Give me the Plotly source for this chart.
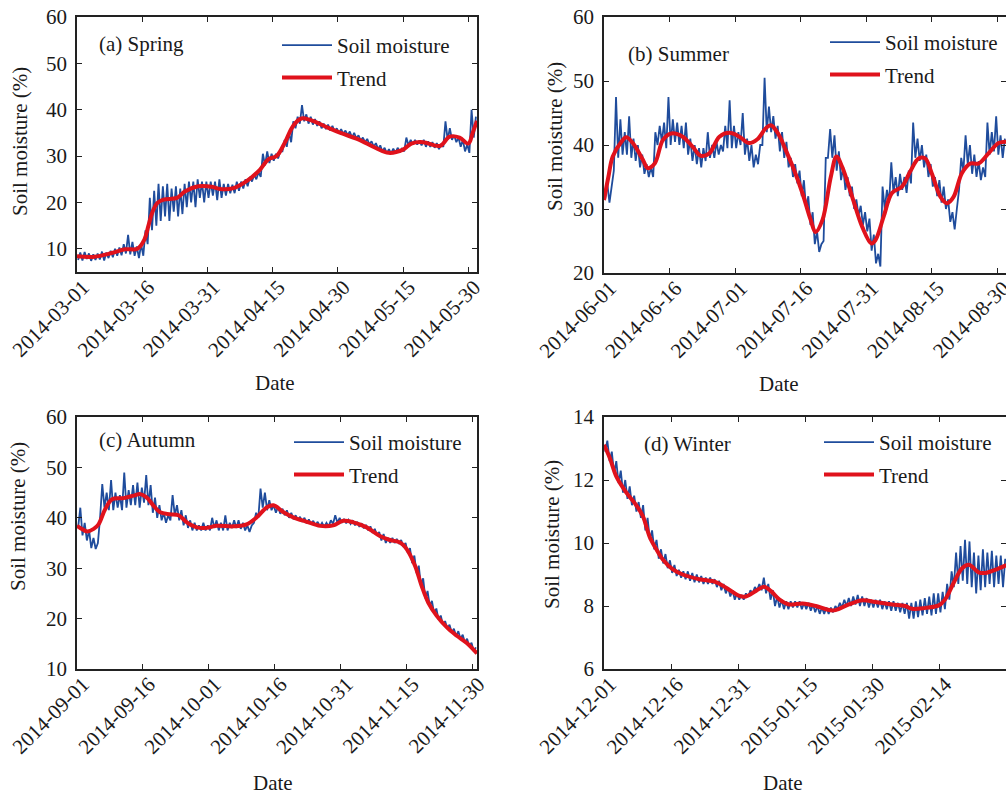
import pandas as pd
import plotly.graph_objects as go

# ---------------- data ----------------
# Daily low / high of hourly soil moisture (%) and smoothed trend
spring_start = "2014-03-01"
spring_end = "2014-06-01"
spring_low = [7.6, 7.5, 7.8, 7.4, 7.6, 7.7, 7.5, 8.0, 8.2, 8.5, 8.6, 9.0, 8.8, 8.5, 8.0, 8.5,
              11.0, 14.0, 15.0, 16.0, 17.0, 16.0, 18.0, 17.0, 17.5, 19.0, 20.0, 19.0, 21.0, 20.0,
              21.0, 21.5, 20.5, 21.0, 21.5, 22.0, 22.0, 22.5, 23.0, 23.5, 24.5, 25.0, 25.5, 28.0,
              28.5, 29.0, 29.5, 31.0, 32.0, 33.0, 36.0, 37.0, 37.5, 37.0, 36.8, 36.5, 36.0, 35.8,
              35.5, 35.3, 35.0, 34.8, 34.5, 34.0, 33.8, 33.3, 33.0, 32.5, 32.0, 31.5, 31.0, 30.6,
              30.6, 30.7, 30.8, 31.0, 32.3, 32.5, 32.5, 32.3, 32.0, 32.0, 31.8, 31.5, 32.0, 33.5,
              33.5, 33.0, 32.0, 31.0, 30.7, 34.0]
spring_high = [9.2, 9.3, 9.0, 8.8, 9.0, 9.4, 9.2, 9.6, 10.0, 10.3, 11.0, 13.0, 11.5, 10.5, 11.0, 14.0,
               21.0, 22.5, 24.0, 23.5, 24.0, 23.0, 23.5, 23.0, 24.0, 24.5, 24.5, 25.0, 24.5, 24.5,
               24.5, 24.5, 25.0, 24.0, 24.0, 23.8, 24.5, 24.5, 25.0, 25.5, 26.0, 26.5, 30.5, 31.0,
               30.5, 30.5, 31.0, 33.5, 35.0, 37.5, 38.5, 41.0, 39.0, 38.5, 38.0, 37.5, 37.0, 36.8,
               36.5, 36.0, 35.8, 35.5, 35.3, 35.0, 34.5, 34.0, 33.7, 33.2, 32.8, 32.3, 31.8, 31.5,
               31.6, 31.8, 31.6, 34.0, 33.5, 33.5, 33.4, 33.5, 33.2, 33.0, 32.8, 32.5, 37.5, 36.0,
               34.5, 34.0, 33.5, 32.5, 40.0, 38.5]
spring_trend_day = [0, 4, 8, 11, 13.9, 15.5, 16.4, 17.3, 18.5, 19.9, 23, 24.9, 27.9, 31, 32.9, 36,
                    39, 42.1, 44, 45.9, 47.8, 49.7, 51.6, 53.6, 57.8, 60.6, 64.7, 68.6, 71.7, 75,
                    76.9, 79.6, 83.5, 85.7, 88, 90, 91, 92]
spring_trend = [8.4, 8.3, 9.1, 9.9, 10.0, 12.0, 14.9, 17.8, 19.9, 20.6, 21.0, 22.4, 23.5, 23.4, 22.9,
                23.1, 24.6, 27.1, 29.3, 30.0, 32.9, 36.5, 38.1, 37.8, 36.1, 35.0, 33.6, 31.8, 30.7,
                31.4, 32.7, 33.0, 32.2, 34.2, 34.0, 32.7, 35.0, 37.6]

summer_start = "2014-06-01"
summer_end = "2014-09-01"
summer_low = [31.5, 31.0, 36.0, 38.0, 38.5, 38.5, 38.0, 37.5, 36.5, 35.5, 35.0, 35.0, 40.0, 40.5,
              39.5, 40.0, 40.5, 40.0, 39.5, 38.5, 37.5, 37.0, 36.5, 37.5, 38.0, 38.0, 38.5, 39.0,
              39.5, 39.5, 39.5, 40.0, 38.5, 37.5, 36.5, 37.0, 40.0, 42.0, 42.0, 41.0, 39.0, 38.0,
              36.5, 35.0, 34.0, 32.0, 30.0, 27.5, 24.5, 23.3, 25.0, 38.0, 38.0, 36.0, 34.5, 33.0,
              32.0, 30.0, 29.0, 27.5, 26.5, 23.5, 21.5, 21.0, 30.0, 31.0, 32.5, 32.0, 33.0, 32.5,
              34.0, 38.0, 37.5, 36.5, 35.0, 33.5, 32.0, 31.0, 30.0, 28.0, 26.8, 33.0, 36.0, 37.0,
              35.5, 35.0, 34.5, 35.0, 38.5, 39.0, 38.5, 38.0]
summer_high = [34.0, 33.5, 47.5, 44.0, 42.0, 44.5, 41.0, 40.0, 38.5, 37.0, 36.5, 42.0, 43.0, 43.5,
               47.5, 44.0, 43.5, 43.0, 43.5, 41.0, 40.0, 39.5, 39.5, 42.0, 40.0, 40.5, 40.0, 43.0,
               47.0, 43.0, 42.0, 45.0, 41.0, 40.0, 38.5, 40.0, 50.5, 46.0, 44.5, 43.0, 42.0, 40.5,
               38.0, 37.0, 36.0, 34.5, 32.0, 29.5, 26.5, 24.5, 38.0, 42.5, 41.5, 39.0, 36.5, 35.0,
               33.5, 31.5, 30.5, 29.5, 28.5, 26.0, 23.0, 33.5, 33.0, 37.3, 35.0, 35.5, 35.0, 36.0,
               43.5, 41.0, 40.0, 38.5, 37.0, 35.0, 34.5, 33.5, 31.5, 29.5, 30.0, 38.0, 41.5, 40.0,
               38.5, 37.5, 36.5, 43.5, 42.0, 44.5, 41.5, 41.0]
summer_trend_day = [0, 1, 2, 4, 5.1, 6.6, 8.9, 10, 11.6, 13.5, 15.4, 18, 20.3, 22.2, 24.1, 26.4, 28.7,
                    31, 33.2, 35.1, 37, 38.2, 40, 41.6, 43.5, 45.4, 47.3, 48.4, 50, 51.9, 53.2, 54.5,
                    56.8, 59.1, 61.2, 62.1, 64, 65.9, 68.2, 70.1, 72, 73.5, 75, 77, 78.5, 80, 81.9,
                    83.8, 85.7, 88, 90.3, 92]
summer_trend = [31.4, 35.0, 38.2, 40.5, 41.2, 40.3, 37.7, 36.4, 37.1, 40.8, 41.8, 41.3, 39.7, 38.3,
                38.7, 41.3, 41.9, 41.3, 40.3, 40.9, 42.6, 43.1, 41.6, 39.2, 36.1, 32.5, 28.3, 26.4,
                28.3, 35.0, 38.2, 36.6, 31.9, 27.2, 24.6, 25.1, 28.8, 32.5, 33.5, 35.9, 37.9, 37.9,
                35.6, 31.9, 30.9, 31.9, 35.6, 37.1, 37.1, 38.7, 40.3, 40.5]

autumn_start = "2014-09-01"
autumn_end = "2014-12-01"
autumn_low = [38.0, 36.5, 35.5, 34.0, 33.8, 40.0, 42.0, 41.5, 41.5, 42.0, 41.5, 42.0, 42.5, 42.5,
              42.0, 43.0, 42.5, 41.0, 40.0, 39.5, 39.0, 39.5, 40.5, 39.5, 38.5, 38.0, 37.5, 37.5,
              37.5, 37.5, 37.5, 38.0, 37.5, 37.5, 37.5, 38.0, 38.0, 37.8, 37.5, 37.2, 39.0, 40.0,
              42.0, 41.5, 41.5, 41.0, 40.8, 40.5, 40.0, 39.7, 39.5, 39.2, 38.9, 38.7, 38.5, 38.3,
              38.2, 38.3, 38.8, 39.0, 39.0, 38.9, 38.8, 38.5, 38.2, 37.9, 37.5, 37.0, 36.5, 35.5,
              35.0, 35.0, 35.0, 34.8, 34.2, 33.0, 31.0, 29.0, 26.5, 24.0, 22.5, 21.0, 19.8, 18.8,
              18.0, 17.2, 16.5, 16.0, 15.2, 14.4, 13.5]
autumn_high = [42.0, 39.0, 37.5, 36.0, 35.0, 46.7, 45.0, 47.5, 45.0, 44.5, 49.0, 45.5, 46.5, 47.0,
               46.0, 48.5, 46.5, 44.0, 42.5, 41.0, 40.5, 44.5, 42.5, 41.5, 40.5, 39.5, 39.0, 38.5,
               39.0, 38.5, 40.0, 39.5, 39.0, 40.5, 39.0, 39.5, 39.5, 39.0, 38.5, 38.5, 41.0, 45.8,
               45.0, 43.5, 42.5, 42.2, 41.8, 41.5, 41.0, 40.5, 40.2, 40.0, 39.7, 39.4, 39.2, 39.0,
               39.0, 39.5, 40.5, 40.0, 39.8, 39.6, 39.5, 39.2, 38.9, 38.6, 38.3, 37.8, 37.2, 36.8,
               36.0, 36.0, 35.8, 35.6, 35.0, 34.0, 32.5, 30.5, 28.0, 25.5, 23.5, 22.0, 20.6, 19.5,
               18.8, 18.0, 17.5, 16.8, 16.0, 15.2, 14.3]
autumn_trend_day = [0, 1.1, 2.3, 3.8, 4.9, 6.4, 8, 10.6, 12.9, 14.4, 15.9, 17.4, 18.9, 21.2, 23.1,
                    25, 27.3, 29.5, 31.8, 35.6, 38.6, 40.9, 43.2, 44.7, 47, 49.2, 52.3, 55.3, 58.3,
                    60.6, 62.9, 65.9, 68.9, 71.2, 73.5, 75, 76.9, 78.4, 79.9, 81.8, 84.1, 86.4,
                    88.6, 91]
autumn_trend = [38.4, 37.8, 37.3, 37.8, 38.7, 41.7, 43.7, 43.9, 44.4, 44.7, 44.0, 42.4, 41.1, 40.7,
                40.5, 39.1, 38.1, 38.0, 38.4, 38.3, 38.7, 40.1, 42.1, 42.5, 41.1, 40.1, 39.2, 38.4,
                38.5, 39.4, 39.1, 38.1, 36.4, 35.6, 35.1, 33.8, 30.5, 26.5, 23.2, 20.6, 18.3, 16.6,
                15.2, 13.1]

winter_start = "2014-12-01"
winter_end = "2015-02-28 22:00"
winter_low = [12.9, 12.6, 12.2, 11.9, 11.6, 11.4, 11.2, 11.0, 10.8, 10.4, 10.1, 9.8, 9.5, 9.35, 9.2,
              9.05, 8.95, 8.9, 8.85, 8.8, 8.75, 8.75, 8.7, 8.7, 8.7, 8.6, 8.5, 8.4, 8.3, 8.2, 8.2,
              8.2, 8.3, 8.4, 8.5, 8.5, 8.4, 8.2, 8.0, 7.95, 7.9, 7.9, 7.95, 7.95, 7.9, 7.9, 7.85,
              7.8, 7.75, 7.75, 7.75, 7.8, 7.9, 7.95, 8.0, 8.0, 8.05, 8.0, 8.0, 7.95, 7.95, 7.95,
              7.9, 7.9, 7.85, 7.85, 7.8, 7.75, 7.6, 7.6, 7.65, 7.7, 7.75, 7.7, 7.75, 7.8, 7.9, 8.2,
              8.6, 8.7, 8.8, 8.7, 8.6, 8.4, 8.5, 8.6, 8.7, 8.6, 8.7, 8.6]
winter_high = [13.25, 12.9, 12.6, 12.3, 12.0, 11.8, 11.5, 11.3, 11.2, 10.8, 10.4, 10.1, 9.8, 9.65,
               9.45, 9.3, 9.15, 9.1, 9.1, 9.05, 9.0, 8.95, 8.9, 8.9, 8.85, 8.8, 8.7, 8.6, 8.5, 8.4,
               8.35, 8.4, 8.5, 8.6, 8.7, 8.9, 8.7, 8.5, 8.3, 8.2, 8.15, 8.15, 8.15, 8.15, 8.1, 8.1,
               8.05, 8.0, 7.95, 7.95, 7.95, 8.0, 8.1, 8.2, 8.25, 8.3, 8.35, 8.3, 8.25, 8.2, 8.2,
               8.2, 8.15, 8.15, 8.15, 8.1, 8.1, 8.1, 8.1, 8.15, 8.2, 8.25, 8.3, 8.4, 8.4, 8.45, 8.7,
               9.1, 9.7, 9.9, 10.1, 10.05, 9.7, 9.6, 9.8, 9.7, 9.75, 9.6, 9.6, 9.5]
winter_trend_day = [0, 1.3, 2.8, 5, 7.2, 8.7, 10.2, 11.7, 13.2, 15.4, 17.6, 21.3, 25, 27.3, 30.3,
                    31.7, 34, 35.8, 37.3, 39.2, 41.4, 44.4, 47.4, 50.3, 51.8, 54.8, 57.8, 60.7,
                    64.5, 67.4, 68.9, 71.9, 74.9, 76.3, 78.2, 80.1, 81.6, 83.8, 85.3, 87.5, 90]
winter_trend = [13.12, 12.7, 12.1, 11.6, 11.2, 10.85, 10.2, 9.8, 9.47, 9.16, 9.0, 8.85, 8.76, 8.58,
                8.32, 8.3, 8.48, 8.61, 8.48, 8.21, 8.05, 8.08, 8.0, 7.87, 7.87, 8.05, 8.18, 8.13,
                8.05, 8.0, 7.91, 7.94, 8.02, 8.21, 8.73, 9.2, 9.31, 9.07, 9.05, 9.15, 9.3]

panel_titles = ["(a) Spring", "(b) Summer", "(c) Autumn", "(d) Winter"]
y_ranges = [[5, 60], [20, 60], [10, 60], [6, 14]]
y_dticks = [10, 10, 10, 2]
series_names = ["Soil moisture", "Trend"]
y_title = "Soil moisture (%)"
x_title = "Date"

# ---------------- styling ----------------
FONT = "Liberation Serif, Times New Roman, serif"
BLUE = "#1f4c9c"
RED = "#e0121c"
TXT = "#1a1a1a"
W, H = 1006, 794


def fx(px):
    return px / W


def fy(py):
    return 1 - py / H


# plot-area boxes in screen pixels (left, right, top, bottom)
boxes = [(77, 477, 17, 272), (604, 1006, 17, 273), (77, 477, 417, 669), (604, 1006, 417, 669)]

panels = [
    (spring_start, spring_end, spring_low, spring_high, spring_trend_day, spring_trend),
    (summer_start, summer_end, summer_low, summer_high, summer_trend_day, summer_trend),
    (autumn_start, autumn_end, autumn_low, autumn_high, autumn_trend_day, autumn_trend),
    (winter_start, winter_end, winter_low, winter_high, winter_trend_day, winter_trend),
]

fig = go.Figure()
layout = dict(
    width=W, height=H, margin=dict(l=0, r=0, t=0, b=0, autoexpand=False),
    paper_bgcolor="white", plot_bgcolor="white", template="none",
    font=dict(family=FONT, size=21, color=TXT),
    showlegend=True, annotations=[],
)

# legend: left edge (px) and top (px)
legend_pos = [(277, 25), (825, 22), (289, 422), (819, 422)]
title_pos = [(97, 44), (626, 54), (97, 440), (642, 444)]
ytitle_pos = [(20, 142), (555, 137), (18, 517), (552, 535)]
xtitle_pos = [(275, 383), (779, 384), (273, 783), (783, 783)]

for k, (start, end, lo, hi, tday, tval) in enumerate(panels):
    n = k + 1
    sfx = "" if n == 1 else str(n)
    t0 = pd.Timestamp(start)
    xs, ys = [], []
    for i in range(len(lo)):
        xs.append(t0 + pd.Timedelta(hours=24 * i + 6))
        ys.append(lo[i])
        xs.append(t0 + pd.Timedelta(hours=24 * i + 18))
        ys.append(hi[i])
    tx = [t0 + pd.to_timedelta(d, unit="D") for d in tday]
    leg = "legend" if n == 1 else f"legend{n}"
    fig.add_trace(go.Scatter(x=xs, y=ys, mode="lines", name=series_names[0],
                             line=dict(color=BLUE, width=1.8), xaxis="x" + sfx, yaxis="y" + sfx,
                             legend=leg, legendgroup=f"sm{n}", showlegend=True))
    fig.add_trace(go.Scatter(x=tx, y=tval, mode="lines", name=series_names[1],
                             line=dict(color=RED, width=4, shape="spline", smoothing=1.0),
                             xaxis="x" + sfx, yaxis="y" + sfx,
                             legend=leg, legendgroup=f"tr{n}", showlegend=True))

    l, r, t, b = boxes[k]
    xd = [max(0.0, fx(l)), min(1.0, fx(r))]
    yd = [fy(b), fy(t)]
    axcommon = dict(showline=True, linecolor="#222", linewidth=1.5, mirror="ticks",
                    ticks="inside", ticklen=5, tickwidth=1.2, tickcolor="#222",
                    showgrid=False, zeroline=False, automargin=False,
                    ticklabeloverflow="allow",
                    tickfont=dict(family=FONT, size=21, color=TXT))
    layout["xaxis" + sfx] = dict(axcommon, domain=xd, type="date", range=[start, end],
                                 tick0=start, dtick=15 * 86400000, tickformat="%Y-%m-%d",
                                 tickangle=-45, anchor="y" + sfx,
                                 ticklabelstandoff=-7, ticklabelshift=6)
    layout["yaxis" + sfx] = dict(axcommon, domain=yd, range=y_ranges[k], dtick=y_dticks[k],
                                 anchor="x" + sfx, ticklabelstandoff=4)

    lx, ly = legend_pos[k]
    layout[leg] = dict(x=fx(lx), y=fy(ly), xanchor="left", yanchor="top",
                       bgcolor="rgba(0,0,0,0)", borderwidth=0, traceorder="grouped",
                       tracegroupgap=2, itemwidth=50,
                       font=dict(family=FONT, size=21, color=TXT))

    px, py = title_pos[k]
    layout["annotations"].append(dict(text=panel_titles[k], x=fx(px), y=fy(py),
                                      xref="paper", yref="paper", xanchor="left",
                                      yanchor="middle", showarrow=False,
                                      font=dict(family=FONT, size=21, color=TXT)))
    yx, yy = ytitle_pos[k]
    layout["annotations"].append(dict(text=y_title, x=fx(yx), y=fy(yy), xref="paper",
                                      yref="paper", xanchor="center", yanchor="middle",
                                      textangle=-90, showarrow=False,
                                      font=dict(family=FONT, size=21, color=TXT)))
    xx, xy = xtitle_pos[k]
    layout["annotations"].append(dict(text=x_title, x=fx(xx), y=fy(xy), xref="paper",
                                      yref="paper", xanchor="center", yanchor="middle",
                                      showarrow=False,
                                      font=dict(family=FONT, size=21, color=TXT)))

fig.update_layout(**layout)
# remove the default 8 px page margin so the figure fills the window exactly
fig.write_html("out.html", config={"displayModeBar": False},
               post_script="document.body.style.margin='0px';document.body.style.overflow='hidden';")
